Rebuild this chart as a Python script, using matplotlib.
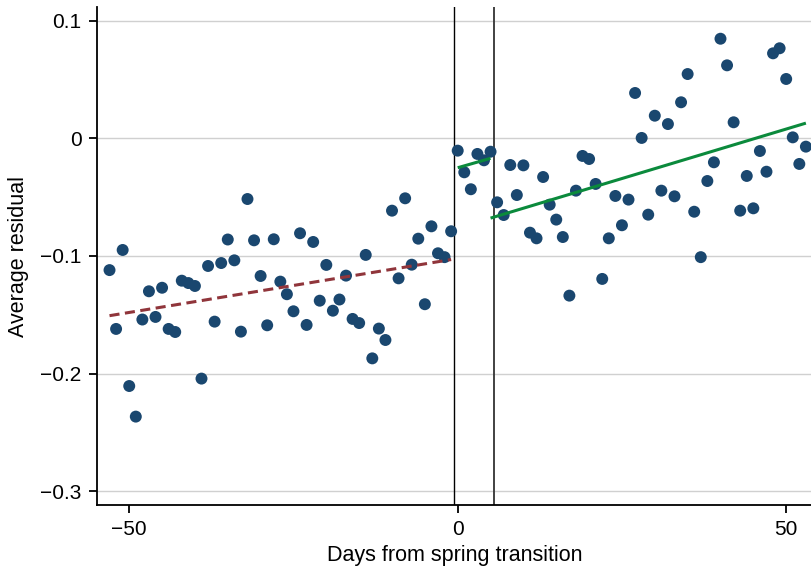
import numpy as np
import matplotlib
matplotlib.use("Agg")
import matplotlib.pyplot as plt
from matplotlib.ticker import FixedLocator, FuncFormatter

plt.rcParams['font.family'] = ['Liberation Sans', 'DejaVu Sans']

days = list(range(-53, 54))
residual = [
    -0.112, -0.162, -0.0949, -0.2105, -0.2365, -0.154, -0.130, -0.1518, -0.127, -0.162,
    -0.1646, -0.121, -0.123, -0.1255, -0.2042, -0.1085, -0.1558, -0.106, -0.086, -0.1037,
    -0.1643, -0.0516, -0.0867, -0.117, -0.1589, -0.0858, -0.1218, -0.1325, -0.147, -0.0807,
    -0.1586, -0.0881, -0.138, -0.1076, -0.1465, -0.137, -0.1167, -0.1535, -0.157, -0.0991,
    -0.187, -0.1617, -0.1714, -0.0615, -0.119, -0.051, -0.1074, -0.0853, -0.141, -0.0748,
    -0.0977, -0.101, -0.079,
    -0.0105, -0.0289, -0.0433, -0.0133, -0.0187, -0.0114,
    -0.0544, -0.0652, -0.0227, -0.0482, -0.0230, -0.0802, -0.085, -0.0329, -0.0564, -0.0691,
    -0.0839, -0.1337, -0.0445, -0.015, -0.0176, -0.0388, -0.1195, -0.085, -0.049, -0.0739,
    -0.0521, 0.0385, 0.0003, -0.0649, 0.0192, -0.0445, 0.0121, -0.0493, 0.0306, 0.0546,
    -0.0624, -0.101, -0.0363, -0.0204, 0.0846, 0.062, 0.0136, -0.0615, -0.032, -0.0595,
    -0.0108, -0.0284, 0.0722, 0.0765, 0.0504, 0.0008, -0.0218, -0.0071,
]

# fit windows (days)
pre_window = (-53, -1)
mid_window = (0, 5)
post_window = (5, 53)
cutoffs = [-0.5, 5.5]

x_ticks = [-50, 0, 50]
y_ticks = [-0.3, -0.2, -0.1, 0, 0.1]

d = np.array(days, dtype=float)
r = np.array(residual, dtype=float)

fig = plt.figure(figsize=(8.12, 5.71), dpi=100)
ax = fig.add_axes([0.1191, 0.1156, 0.8809, 0.8716])

ax.set_xlim(-54.95, 53.93)
ax.set_ylim(-0.3116, 0.1113)

for yt in y_ticks:
    ax.axhline(yt, color='#d0d0d0', lw=1.0, zorder=0)

ax.scatter(d, r, s=74, color='#1a476f', edgecolors='none', zorder=3)

def fit_line(lo, hi):
    m = (d >= lo) & (d <= hi)
    b1, b0 = np.polyfit(d[m], r[m], 1)
    xs = np.array([lo, hi], dtype=float)
    return xs, b0 + b1 * xs

xs, ys = fit_line(*pre_window)
ln, = ax.plot(xs, ys, color='#90353b', lw=2.2, zorder=4)
ln.set_dashes((3.3, 1.8))
xs, ys = fit_line(*mid_window)
ax.plot(xs, ys, color='#0b8a3c', lw=2.2, zorder=4, solid_capstyle='butt')
xs, ys = fit_line(*post_window)
ax.plot(xs, ys, color='#0b8a3c', lw=2.2, zorder=4, solid_capstyle='butt')

ax.axvline(cutoffs[0], color='black', lw=1.0, zorder=2)
ax.axvline(cutoffs[1], color='#333333', lw=1.3, zorder=2)

for s in ['top', 'right']:
    ax.spines[s].set_visible(False)
for s in ['left', 'bottom']:
    ax.spines[s].set_linewidth(1.3)
    ax.spines[s].set_color('black')

def fmt(v, pos):
    if abs(v) < 1e-9:
        return '0'
    s = ('%g' % v)
    return s.replace('-', '\u2212')

ax.xaxis.set_major_locator(FixedLocator(x_ticks))
ax.yaxis.set_major_locator(FixedLocator(y_ticks))
ax.xaxis.set_major_formatter(FuncFormatter(fmt))
ax.yaxis.set_major_formatter(FuncFormatter(fmt))
ax.tick_params(axis='both', direction='out', length=6, width=1.3, labelsize=15, colors='black', pad=5)

ax.set_xlabel('Days from spring transition', fontsize=15.5, labelpad=4)
ax.set_ylabel('Average residual', fontsize=15.5, labelpad=8)

fig.savefig('out.png', dpi=100)
